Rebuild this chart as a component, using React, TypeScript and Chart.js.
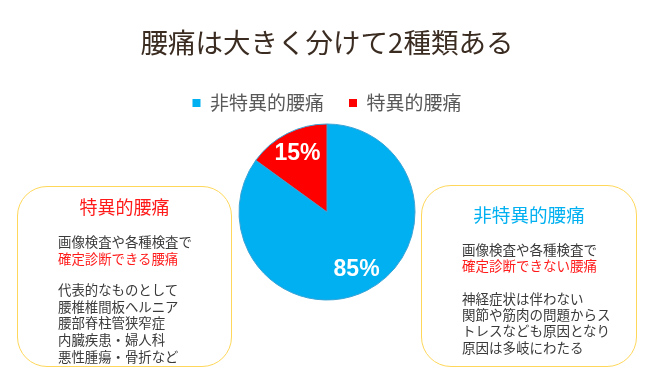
import React, { useEffect, useRef } from "react";
import { Chart, registerables } from "chart.js";

Chart.register(...registerables);

const TITLE = "腰痛は大きく分けて2種類ある";
const CATEGORIES = ["非特異的腰痛", "特異的腰痛"];
const VALUES = [85, 15];
const COLORS = ["#00B0F0", "#FF0000"];

const LEFT_TITLE = "特異的腰痛";
const LEFT_LINE1 = "画像検査や各種検査で";
const LEFT_RED = "確定診断できる腰痛";
const LEFT_LIST = ["代表的なものとして", "腰椎椎間板ヘルニア", "腰部脊柱管狭窄症", "内臓疾患・婦人科", "悪性腫瘍・骨折など"];

const RIGHT_TITLE = "非特異的腰痛";
const RIGHT_LINE1 = "画像検査や各種検査で";
const RIGHT_RED = "確定診断できない腰痛";
const RIGHT_LIST = ["神経症状は伴わない", "関節や筋肉の問題からス", "トレスなども原因となり", "原因は多岐にわたる"];

const FONT = "'Noto Sans CJK JP', 'Noto Sans', sans-serif";

const pctLabels = {
  id: "pctLabels",
  afterDatasetsDraw(chart: any) {
    const ctx = chart.ctx;
    const meta = chart.getDatasetMeta(0);
    ctx.save();
    ctx.fillStyle = "#FFFFFF";
    ctx.font = "bold 23px 'Liberation Sans', Arial, sans-serif";
    ctx.textAlign = "center";
    ctx.textBaseline = "middle";
    meta.data.forEach((arc: any, i: number) => {
      const p = arc.getProps(["x", "y", "startAngle", "endAngle", "outerRadius"], true);
      const mid = (p.startAngle + p.endAngle) / 2;
      const r = p.outerRadius * 0.74;
      ctx.fillText(VALUES[i] + "%", p.x + Math.cos(mid) * r, p.y + Math.sin(mid) * r);
    });
    ctx.restore();
  },
};

function InfoBox(props: {
  left: number; top: number; width: number; height: number;
  title: string; titleColor: string; titleSize: number; titleTop: number;
  line1: string; red: string; list: string[];
  textLeft: number; block1Top: number; block2Top: number; lh: number; fs: number;
}) {
  const p = props;
  return (
    <div style={{
      position: "absolute", left: p.left, top: p.top, width: p.width, height: p.height,
      border: "1.5px solid #FFD75A", borderRadius: 30, background: "#FFFFFF", boxSizing: "border-box",
      fontFamily: FONT,
    }}>
      <div style={{ position: "absolute", left: 0, right: 0, top: p.titleTop, textAlign: "center", color: p.titleColor, fontSize: p.titleSize, lineHeight: "22px", whiteSpace: "nowrap" }}>{p.title}</div>
      <div style={{ position: "absolute", left: p.textLeft, top: p.block1Top, fontSize: p.fs, lineHeight: p.lh + "px", color: "#3A3A3A", whiteSpace: "nowrap" }}>
        <div>{p.line1}</div>
        <div style={{ color: "#FF1A1A" }}>{p.red}</div>
      </div>
      <div style={{ position: "absolute", left: p.textLeft, top: p.block2Top, fontSize: p.fs, lineHeight: p.lh + "px", color: "#3A3A3A", whiteSpace: "nowrap" }}>
        {p.list.map((t, i) => <div key={i}>{t}</div>)}
      </div>
    </div>
  );
}

export default function App() {
  const ref = useRef<HTMLCanvasElement>(null);
  useEffect(() => {
    document.body.style.margin = "0";
    const chart = new Chart(ref.current as HTMLCanvasElement, {
      type: "pie",
      data: {
        labels: CATEGORIES,
        datasets: [{
          data: VALUES,
          backgroundColor: COLORS,
          borderColor: "#3AA3D6",
          borderWidth: 1,
          radius: 88,
        } as any],
      },
      options: {
        responsive: false,
        animation: false,
        layout: { padding: { top: 0, bottom: 66.5, left: 0, right: 0 } },
        plugins: {
          tooltip: { enabled: false },
          title: {
            display: true,
            text: TITLE,
            color: "#3B2C22",
            font: { family: FONT, size: 27.5, weight: "normal" as any },
            padding: { top: 26.5, bottom: 9 },
          },
          legend: {
            display: true,
            position: "top",
            labels: {
              boxWidth: 8,
              boxHeight: 8,
              padding: 25,
              color: "#595959",
              font: { family: FONT, size: 19 },
              generateLabels: () => CATEGORIES.map((c, i) => ({
                text: c, fillStyle: COLORS[i], strokeStyle: COLORS[i], lineWidth: 0, hidden: false, index: i,
                fontColor: "#595959",
              })),
            },
          },
        },
      },
      plugins: [pctLabels],
    });
    return () => chart.destroy();
  }, []);
  return (
    <div style={{ position: "fixed", left: 0, top: 0, width: 654, height: 368, background: "#FFFFFF", overflow: "hidden" }}>
      <canvas ref={ref} width={654} height={368} style={{ position: "absolute", left: 0, top: 0 }} />
      <InfoBox left={17} top={186} width={215} height={181} title={LEFT_TITLE} titleColor="#FF1A1A" titleSize={18}
        titleTop={8} line1={LEFT_LINE1} red={LEFT_RED} list={LEFT_LIST} textLeft={40} block1Top={46} block2Top={94} lh={16.7} fs={13.4} />
      <InfoBox left={421} top={185} width={216} height={182} title={RIGHT_TITLE} titleColor="#00B0F0" titleSize={18.6}
        titleTop={17} line1={RIGHT_LINE1} red={RIGHT_RED} list={RIGHT_LIST} textLeft={40} block1Top={55} block2Top={104} lh={16.2} fs={13.5} />
    </div>
  );
}
